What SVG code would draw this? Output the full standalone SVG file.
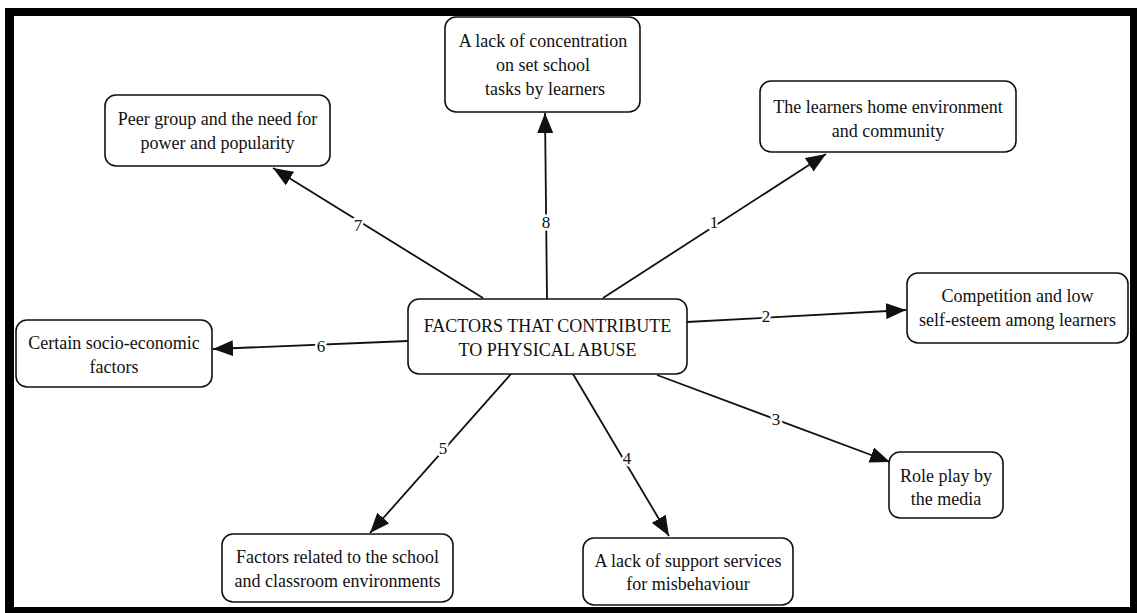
<svg xmlns="http://www.w3.org/2000/svg" width="1137" height="613" viewBox="0 0 1137 613">
<style>
.box{fill:#fff;stroke:#111;stroke-width:1.6}
.t{font-family:'Liberation Serif',Tinos,'Times New Roman',Times,'DejaVu Serif',serif;font-size:18px;fill:#111;text-anchor:middle}
.e{stroke:#111;stroke-width:1.8;fill:none;marker-end:url(#ah)}
.lb{font-family:'Liberation Serif',Tinos,'Times New Roman',Times,'DejaVu Serif',serif;font-size:17px;fill:#111;text-anchor:middle;stroke:#fff;stroke-width:5;paint-order:stroke;stroke-linejoin:round}
</style>
<defs>
<marker id="ah" markerUnits="userSpaceOnUse" markerWidth="22" markerHeight="16" refX="20" refY="8" orient="auto">
<path d="M0,0 L20,8 L0,16 z" fill="#111"/>
</marker>
</defs>
<rect x="0" y="0" width="1137" height="613" fill="#fff"/>
<rect x="5" y="8" width="1132" height="605" fill="#000"/>
<rect x="14" y="16" width="1116" height="591" fill="#fff"/>
<g id="connectors">
<line class="e" x1="547" y1="299" x2="545" y2="113"/>
<line class="e" x1="603" y1="298" x2="826" y2="154"/>
<line class="e" x1="687" y1="322" x2="906" y2="310"/>
<line class="e" x1="657" y1="375" x2="890" y2="462"/>
<line class="e" x1="573" y1="374" x2="669" y2="536"/>
<line class="e" x1="511" y1="374" x2="370" y2="533"/>
<line class="e" x1="408" y1="341" x2="213" y2="349"/>
<line class="e" x1="483" y1="298" x2="273" y2="168"/>
<text class="lb" font-family="Liberation Serif, serif" x="546" y="228">8</text>
<text class="lb" font-family="Liberation Serif, serif" x="714" y="228">1</text>
<text class="lb" font-family="Liberation Serif, serif" x="766" y="322">2</text>
<text class="lb" font-family="Liberation Serif, serif" x="776" y="425">3</text>
<text class="lb" font-family="Liberation Serif, serif" x="627" y="464">4</text>
<text class="lb" font-family="Liberation Serif, serif" x="443" y="454">5</text>
<text class="lb" font-family="Liberation Serif, serif" x="321" y="352">6</text>
<text class="lb" font-family="Liberation Serif, serif" x="358" y="231">7</text>
</g>
<g id="center">
<rect class="box" x="408" y="299" width="279" height="75" rx="11"/>
<text class="t" x="547.5" y="332">FACTORS THAT CONTRIBUTE</text>
<text class="t" x="547.5" y="356">TO PHYSICAL ABUSE</text>
</g>
<g id="n8">
<rect class="box" x="445" y="17" width="195" height="95" rx="11"/>
<text class="t" x="543" y="47">A lack of concentration</text>
<text class="t" x="543" y="71">on set school</text>
<text class="t" x="545" y="95">tasks by learners</text>
</g>
<g id="n1">
<rect class="box" x="760" y="81" width="256" height="71" rx="11"/>
<text class="t" x="888" y="113">The learners home environment</text>
<text class="t" x="888" y="137">and community</text>
</g>
<g id="n2">
<rect class="box" x="907" y="273" width="221" height="70" rx="11"/>
<text class="t" x="1017.5" y="302">Competition and low</text>
<text class="t" x="1017.5" y="326">self-esteem among learners</text>
</g>
<g id="n3">
<rect class="box" x="889" y="452" width="114" height="66" rx="11"/>
<text class="t" x="946" y="482">Role play by</text>
<text class="t" x="946" y="505">the media</text>
</g>
<g id="n4">
<rect class="box" x="583" y="538" width="210" height="67" rx="11"/>
<text class="t" x="688" y="567">A lack of support services</text>
<text class="t" x="688" y="590">for misbehaviour</text>
</g>
<g id="n5">
<rect class="box" x="222" y="534" width="231" height="68" rx="11"/>
<text class="t" x="337.5" y="563">Factors related to the school</text>
<text class="t" x="337.5" y="587">and classroom environments</text>
</g>
<g id="n6">
<rect class="box" x="16" y="320" width="196" height="67" rx="11"/>
<text class="t" x="114" y="349">Certain socio-economic</text>
<text class="t" x="114" y="373">factors</text>
</g>
<g id="n7">
<rect class="box" x="105" y="95" width="225" height="71" rx="11"/>
<text class="t" x="217.5" y="125">Peer group and the need for</text>
<text class="t" x="217.5" y="149">power and popularity</text>
</g>
</svg>
